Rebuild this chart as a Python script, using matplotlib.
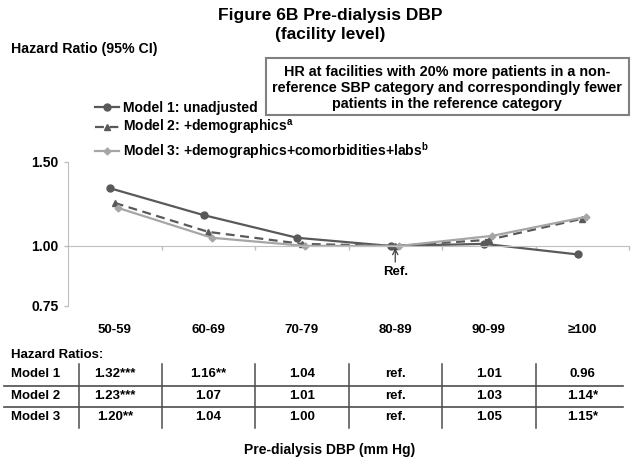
import numpy as np
import matplotlib
matplotlib.use("Agg")
import matplotlib.pyplot as plt
from matplotlib import transforms
from matplotlib.lines import Line2D
from matplotlib.patches import Rectangle
from matplotlib.ticker import NullLocator

categories = ["50-59", "60-69", "70-79", "80-89", "90-99", "≥100"]
model1 = [1.32, 1.16, 1.04, 1.00, 1.01, 0.96]
model2 = [1.23, 1.07, 1.01, 1.00, 1.03, 1.14]
model3 = [1.20, 1.04, 1.00, 1.00, 1.05, 1.15]
model1_txt = ["1.32***", "1.16**", "1.04", "ref.", "1.01", "0.96"]
model2_txt = ["1.23***", "1.07", "1.01", "ref.", "1.03", "1.14*"]
model3_txt = ["1.20**", "1.04", "1.00", "ref.", "1.05", "1.15*"]
row_names = ["Model 1", "Model 2", "Model 3"]
yticks = [0.75, 1.00, 1.50]
ytick_labels = ["0.75", "1.00", "1.50"]

plt.rcParams["font.family"] = ["Liberation Sans", "DejaVu Sans"]
plt.rcParams["font.weight"] = "bold"
plt.rcParams["mathtext.fontset"] = "custom"
plt.rcParams["mathtext.rm"] = "Liberation Sans:bold"
plt.rcParams["mathtext.bf"] = "Liberation Sans:bold"

W, H = 635, 461


def fx(px):
    return px / W


def fy(py):
    return 1 - py / H


fig = plt.figure(figsize=(6.35, 4.61), dpi=100)
ax = fig.add_axes([fx(68), fy(305.7), fx(629) - fx(68), fy(161.7) - fy(305.7)])

x = np.arange(len(categories))
ax.plot(x - 0.05, model1, color="#595959", lw=1.6, marker="o", ms=5,
        label="Model 1: unadjusted")
ax.plot(x, model2, color="#595959", lw=1.6, ls=(0, (4, 2.5)), marker="^", ms=5,
        label=r"Model 2: +demographics$^{\mathrm{a}}$")
ax.plot(x + 0.04, model3, color="#A6A6A6", lw=1.6, marker="D", ms=3.5,
        label=r"Model 3: +demographics+comorbidities+labs$^{\mathrm{b}}$")

ax.set_yscale("log")
ax.set_ylim(0.75, 1.5)
ax.set_yticks(yticks)
ax.set_yticklabels(ytick_labels, fontsize=10)
ax.yaxis.set_minor_locator(NullLocator())
ax.set_xlim(-0.5, len(categories) - 0.5)
ax.set_xticks(np.arange(0.5, len(categories), 1))
ax.set_xticklabels([])
ax.xaxis.set_minor_locator(NullLocator())

ax.spines["top"].set_visible(False)
ax.spines["right"].set_visible(False)
ax.spines["bottom"].set_position(("data", 1.0))
ax.spines["bottom"].set_color("#BFBFBF")
ax.spines["left"].set_color("#BFBFBF")
ax.tick_params(axis="both", color="#BFBFBF", length=3, width=1)
ax.tick_params(axis="y", pad=4)

ax.annotate("Ref.", xy=(3, 0.99), xytext=(3, 0.881), ha="center", va="center",
            fontsize=9.5, arrowprops=dict(arrowstyle="->", color="#404040", lw=0.9,
                                          shrinkA=1, shrinkB=0))

fig.legend(loc="upper left", bbox_to_anchor=(fx(95), fy(101)), frameon=False,
           borderpad=0, borderaxespad=0, handlelength=1.75, handletextpad=0.25,
           labelspacing=0.22, prop={"size": 10, "weight": "bold"})

# titles
fig.text(fx(330), fy(25), "Figure 6B Pre-dialysis DBP\n(facility level)", ha="center",
         va="center", fontsize=12.5, linespacing=1.3)
fig.text(fx(11), fy(49), "Hazard Ratio (95% CI)", ha="left", va="center", fontsize=10.2)

# note box
fig.add_artist(Rectangle((fx(266), fy(115)), fx(629) - fx(266), fy(58) - fy(115),
                         transform=fig.transFigure, fc="white", ec="#808080", lw=1.5))
fig.text(fx(447), fy(88),
         "HR at facilities with 20% more patients in a non-\n"
         "reference SBP category and correspondingly fewer\n"
         "patients in the reference category",
         ha="center", va="center", fontsize=10.4, linespacing=1.18)

# table under the chart
trans = transforms.blended_transform_factory(ax.transData, fig.transFigure)
for i, c in enumerate(categories):
    ax.text(i, fy(330), c, transform=trans, ha="center", va="center", fontsize=9.5,
            clip_on=False)

fig.text(fx(11), fy(355), "Hazard Ratios:", ha="left", va="center", fontsize=9.5)
row_y = [374, 396, 417]
for name, vals, ry in zip(row_names, [model1_txt, model2_txt, model3_txt], row_y):
    fig.text(fx(11), fy(ry), name, ha="left", va="center", fontsize=9.5)
    for i, v in enumerate(vals):
        ax.text(i, fy(ry), v, transform=trans, ha="center", va="center", fontsize=9.5,
                clip_on=False)

for ry in [386, 407]:
    fig.add_artist(Line2D([fx(4), fx(623)], [fy(ry), fy(ry)], transform=fig.transFigure,
                          color="#4D4D4D", lw=1.2))
for b in [-0.38, 0.5, 1.5, 2.5, 3.5, 4.5]:
    fig.add_artist(Line2D([b, b], [fy(364), fy(428)], transform=trans,
                          color="#4D4D4D", lw=1.1))

fig.text(fx(330), fy(450), "Pre-dialysis DBP (mm Hg)", ha="center", va="center",
         fontsize=10)

fig.savefig("out.png", dpi=100)
